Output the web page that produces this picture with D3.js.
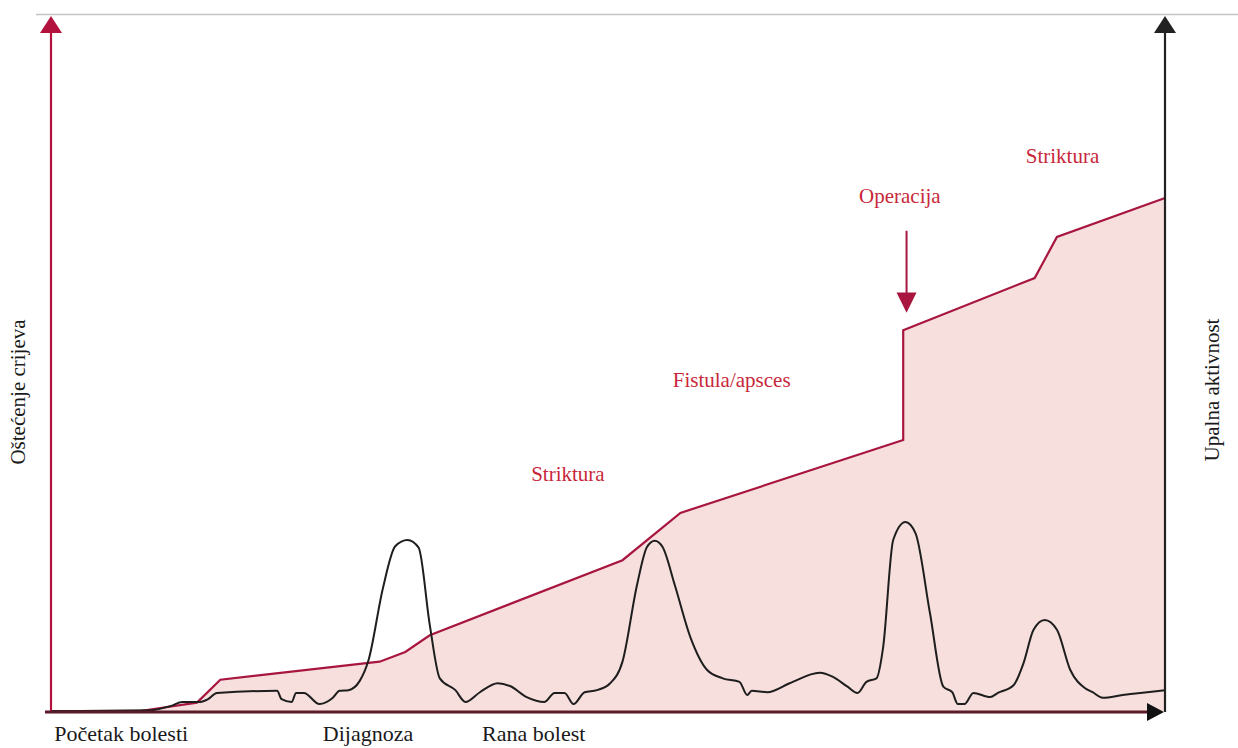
<!DOCTYPE html>
<meta charset="utf-8">
<style>
* { margin: 0; padding: 0; }
body { background: #fff; }
text { font-family: "Liberation Serif", "Times New Roman", serif; font-size: 18px; }
.red-text { fill: #c8283a; font-size: 21px; }
.black-text { fill: #1a1a1a; font-size: 21px; }
.stage-text { fill: #1a1a1a; font-size: 22px; }
</style>
<body>
<script src="https://cdn.jsdelivr.net/npm/d3@7/dist/d3.min.js"></script>
<script>

// time runs 0..100 along the bottom axis, both series 0..100 up the side axes
var damageTime  = [8.0, 13.1, 15.2, 29.5, 31.8, 34.0, 51.3, 56.5, 76.5, 76.5, 88.3, 90.3, 100];
var damageValue = [0,   1.2,  4.5,  7.1,  8.5,  10.9, 21.7, 28.5, 39.0, 54.8, 62.3, 68.2, 73.8];

var activityTime = [0, 8.9, 10.7, 11.8, 13.4, 14.1, 14.9, 20.3, 20.7, 21.6, 22.0, 22.7, 24.1, 25.3, 25.9, 26.7,
	27.7, 28.5, 29.8, 30.9, 32.0, 33.0, 34.0, 34.9, 36.3, 37.2, 38.5, 40.1, 41.2, 42.7, 44.3, 45.2, 46.1, 46.9,
	47.9, 49.0, 50.2, 51.3, 52.6, 53.5, 54.2, 54.9, 56.0, 57.4, 58.9, 60.3, 61.8, 62.5, 62.9, 64.3, 66.3, 69.0,
	70.2, 71.5, 72.4, 73.2, 74.1, 74.7, 75.6, 76.7, 77.6, 78.9, 80.1, 80.9, 81.4, 82.0, 82.8, 84.3, 85.0, 86.4,
	87.3, 88.2, 89.2, 90.3, 91.5, 92.8, 93.5, 94.4, 96.2, 100];
var activityValue = [0, 0.1, 0.7, 1.3, 1.3, 1.7, 2.6, 2.9, 1.7, 1.3, 2.6, 2.6, 1.0, 1.9, 2.9, 3.0,
	4.3, 7.3, 17.7, 23.7, 24.6, 23.5, 12.4, 4.7, 3.0, 1.3, 2.7, 4.0, 3.6, 2.0, 1.3, 2.6, 2.6, 1.0,
	2.7, 3.0, 4.0, 7.1, 18.1, 23.6, 24.5, 23.6, 18.1, 10.6, 5.9, 4.7, 4.2, 2.3, 2.9, 2.7, 4.0, 5.5,
	4.9, 3.5, 2.6, 4.2, 4.7, 9.2, 24.6, 27.2, 25.6, 14.1, 3.5, 2.7, 1.0, 1.0, 2.6, 2.0, 2.6, 3.7,
	6.9, 11.7, 13.1, 11.7, 5.9, 3.3, 2.7, 1.9, 2.3, 3.0];

// event labels
var eventTime  = [46.4, 61.1, 76.2, 90.8];
var eventValue = [33.1, 46.6, 73.1, 78.8];
var eventText  = ["Striktura", "Fistula/apsces", "Operacija", "Striktura"];

var stageTime = [0.3, 24.4, 38.7];
var stageText = ["Početak bolesti", "Dijagnoza", "Rana bolest"];

var width = 1238,
    height = 748,
    plotLeft = 51,
    plotRight = 1165,
    plotBottom = 711,
    plotTop = 16;

var x = d3.scaleLinear().domain([0, 100]).range([plotLeft, plotRight]);
var y = d3.scaleLinear().domain([0, 100]).range([plotBottom, plotTop]);

var svg = d3.select("body").append("svg")
	.attr("width", width)
	.attr("height", height);

// thin grey rule at the top
svg.append("line")
	.attr("x1", 36).attr("x2", width)
	.attr("y1", 14.5).attr("y2", 14.5)
	.attr("stroke", "#c4c4c4")
	.attr("stroke-width", 1.3);

var damage = damageTime.map(function(t, i) { return [t, damageValue[i]]; });
var activity = activityTime.map(function(t, i) { return [t, activityValue[i]]; });

// pink area under damage
svg.append("path")
	.datum(damage)
	.attr("fill", "#f6dfdd")
	.attr("d", d3.area()
		.x(function(d) { return x(d[0]); })
		.y0(y(0))
		.y1(function(d) { return y(d[1]); }));

// damage line
svg.append("path")
	.datum(damage)
	.attr("fill", "none")
	.attr("stroke", "#a81640")
	.attr("stroke-width", 2.2)
	.attr("d", d3.line()
		.x(function(d) { return x(d[0]); })
		.y(function(d) { return y(d[1]); }));

// activity line
svg.append("path")
	.datum(activity)
	.attr("fill", "none")
	.attr("stroke", "#1e1e1e")
	.attr("stroke-width", 2)
	.attr("d", d3.line()
		.curve(d3.curveMonotoneX)
		.x(function(d) { return x(d[0]); })
		.y(function(d) { return y(d[1]); }));

// axes
function arrowUp(cx, color) {
	svg.append("line")
		.attr("x1", cx).attr("x2", cx)
		.attr("y1", plotBottom + 1).attr("y2", plotTop + 14)
		.attr("stroke", color).attr("stroke-width", 2.2);
	svg.append("path")
		.attr("d", "M" + cx + "," + plotTop + " L" + (cx - 11) + "," + (plotTop + 17) + " L" + (cx + 11) + "," + (plotTop + 17) + "Z")
		.attr("fill", color);
}
arrowUp(plotLeft, "#b3123f");
arrowUp(plotRight, "#222");

svg.append("line")
	.attr("x1", plotLeft - 6).attr("x2", plotRight - 14)
	.attr("y1", plotBottom + 1).attr("y2", plotBottom + 1)
	.attr("stroke", "#5a1a2a").attr("stroke-width", 3);
svg.append("path")
	.attr("d", "M" + (plotRight - 1) + "," + (plotBottom + 1) + " L" + (plotRight - 18) + "," + (plotBottom - 8) + " L" + (plotRight - 18) + "," + (plotBottom + 10) + "Z")
	.attr("fill", "#111");

// operation arrow
var opX = x(76.8);
svg.append("line")
	.attr("x1", opX).attr("x2", opX)
	.attr("y1", y(69.1)).attr("y2", y(59.5))
	.attr("stroke", "#a81640").attr("stroke-width", 2);
svg.append("path")
	.attr("d", "M" + opX + "," + y(57.3) + " L" + (opX - 10) + "," + y(60.2) + " L" + (opX + 10) + "," + y(60.2) + "Z")
	.attr("fill", "#a81640");

// event labels
eventText.forEach(function(t, i) {
	svg.append("text")
		.attr("class", "red-text")
		.attr("x", x(eventTime[i]))
		.attr("y", y(eventValue[i]))
		.attr("text-anchor", "middle")
		.text(t);
});

// stage labels under the time axis
stageText.forEach(function(t, i) {
	svg.append("text")
		.attr("class", "stage-text")
		.attr("x", x(stageTime[i]))
		.attr("y", 741)
		.text(t);
});

// side titles
svg.append("text")
	.attr("class", "black-text")
	.attr("transform", "translate(25,392) rotate(-90)")
	.attr("text-anchor", "middle")
	.text("Oštećenje crijeva");

svg.append("text")
	.attr("class", "black-text")
	.attr("transform", "translate(1219,390) rotate(-90)")
	.attr("text-anchor", "middle")
	.text("Upalna aktivnost");

</script>
